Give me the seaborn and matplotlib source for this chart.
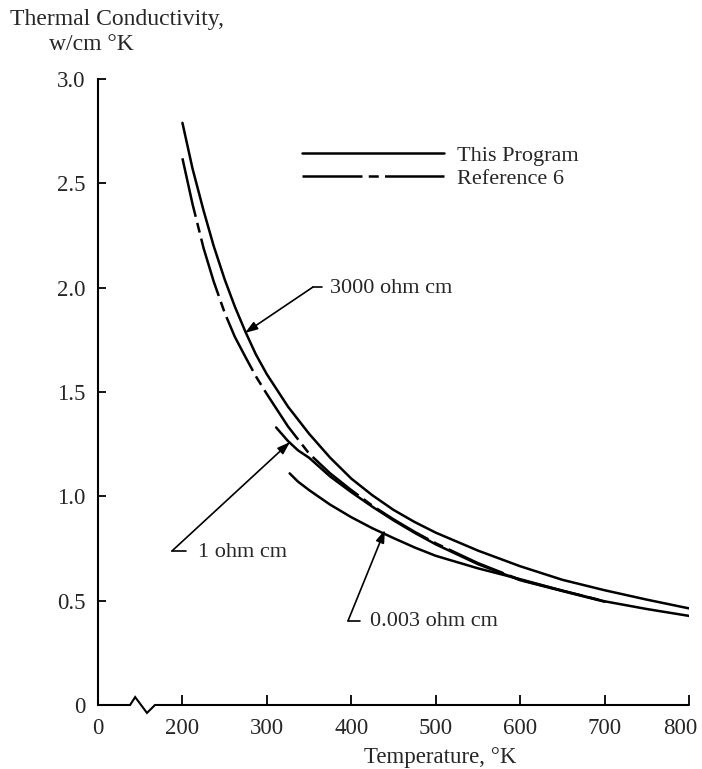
import numpy as np
import pandas as pd
import seaborn as sns
import matplotlib.pyplot as plt
from matplotlib.transforms import ScaledTranslation

sns.set_theme(style="ticks")
plt.rcParams['font.family'] = ['Liberation Serif', 'DejaVu Serif']

# curvas (T en K, k en w/cm K)
t_3000_prog = [200, 212, 225, 237, 250, 262, 275, 287, 300, 325, 350, 375, 400, 425, 450, 475,
               500, 550, 600, 650, 700, 750, 800]
k_3000_prog = [2.79, 2.57, 2.37, 2.20, 2.04, 1.91, 1.785, 1.68, 1.585, 1.43, 1.30, 1.185, 1.085,
               1.005, 0.935, 0.877, 0.826, 0.74, 0.665, 0.60, 0.55, 0.505, 0.463]

t_3000_ref = [200, 212, 225, 237, 250, 262, 275, 287, 300, 325, 350, 375, 400, 425, 450, 475,
              500, 550, 600, 650, 700]
k_3000_ref = [2.62, 2.40, 2.19, 2.03, 1.88, 1.765, 1.665, 1.575, 1.49, 1.335, 1.205, 1.11, 1.03,
              0.955, 0.89, 0.83, 0.775, 0.68, 0.60, 0.548, 0.497]

t_1ohm = [311, 325, 337, 350, 375, 400, 425, 450, 475, 500, 550, 600, 650, 700]
k_1ohm = [1.33, 1.265, 1.22, 1.185, 1.095, 1.02, 0.95, 0.885, 0.825, 0.77, 0.675, 0.598, 0.546, 0.495]

t_0003 = [327, 337, 350, 375, 400, 425, 450, 475, 500, 550, 600, 650, 700, 750, 800]
k_0003 = [1.11, 1.07, 1.03, 0.96, 0.90, 0.847, 0.80, 0.755, 0.715, 0.655, 0.603, 0.548, 0.497,
          0.46, 0.427]

x_ticks = [100, 200, 300, 400, 500, 600, 700, 800]
x_tick_labels = ['0', '200', '300', '400', '500', '600', '700', '800']
y_ticks = [0, 0.5, 1.0, 1.5, 2.0, 2.5, 3.0]
y_tick_labels = ['0', '0.5', '1.0', '1.5', '2.0', '2.5', '3.0']

frames = []
for name, src, t, k in [("3000", "This Program", t_3000_prog, k_3000_prog),
                        ("3000 ref", "Reference 6", t_3000_ref, k_3000_ref),
                        ("1", "This Program", t_1ohm, k_1ohm),
                        ("0.003", "This Program", t_0003, k_0003)]:
    frames.append(pd.DataFrame({"T": t, "k": k, "curve": name, "source": src}))
df = pd.concat(frames, ignore_index=True)

fig = plt.figure(figsize=(7.02, 7.69), dpi=100)
ax = fig.add_axes([98 / 702, 64 / 769, 591 / 702, 626 / 769])

sns.lineplot(data=df, x="T", y="k", units="curve", style="source",
             style_order=["This Program", "Reference 6"],
             dashes={"This Program": "", "Reference 6": (24, 2.5, 4, 2.5)},
             estimator=None, sort=False, color="black", lw=1.8, ax=ax)

ax.set_xlim(100, 800)
ax.set_ylim(0, 3.0)
ax.set_xticks(x_ticks)
ax.set_xticklabels(x_tick_labels)
ax.set_yticks(y_ticks)
ax.set_yticklabels(y_tick_labels)
ax.tick_params(axis='both', direction='in', labelsize=16.5, width=1.3, color='black', pad=9)
ax.tick_params(axis='x', length=7)
ax.tick_params(axis='y', length=6)

# el "800" queda un poco hacia dentro, como en el original
last = ax.get_xticklabels()[-1]
last.set_transform(last.get_transform() + ScaledTranslation(-6 / 72, 0, fig.dpi_scale_trans))

for s in ['top', 'right', 'bottom']:
    ax.spines[s].set_visible(False)
ax.spines['left'].set_linewidth(1.5)
ax.spines['left'].set_color('black')

# eje x con corte (zigzag)
brk = [138, 144, 158, 167.5]
amp = 0.038
ax.plot([100, brk[0], brk[1], brk[2], brk[3], 800], [0, 0, amp, -amp, 0, 0],
        color='black', lw=1.5, clip_on=False, solid_joinstyle='miter')

# leyenda
handles, labels = ax.get_legend_handles_labels()
pairs = [(h, l) for h, l in zip(handles, labels) if l in ("This Program", "Reference 6")]
ax.legend([p[0] for p in pairs], [p[1] for p in pairs], loc='upper left',
          bbox_to_anchor=(0.345, 0.894), frameon=False, fontsize=16,
          handlelength=6.4, handletextpad=0.6, labelspacing=0.1,
          borderpad=0, borderaxespad=0)

# etiquetas con flechas
arrow_kw = dict(arrowstyle='-|>,head_length=0.5,head_width=0.17', color='black',
                lw=1.2, mutation_scale=15, shrinkA=0, shrinkB=0)
notes = [("3000 ohm cm", (274, 1.783), (354.6, 2.003), 365.3, 374.8, 1.995),
         ("1 ohm cm", (327.4, 1.26), (187.6, 0.738), 204.2, 218.4, 0.73),
         ("0.003 ohm cm", (439.9, 0.839), (396.1, 0.403), 410.3, 422.2, 0.398)]
for txt, tip, corner, tick_end, tx, ty in notes:
    ax.annotate('', xy=tip, xytext=corner, arrowprops=arrow_kw)
    ax.plot([corner[0], tick_end], [corner[1], corner[1]], color='black', lw=1.2)
    ax.text(tx, ty, txt, fontsize=16, va='center', ha='left')

ax.set_xlabel("Temperature, °K", fontsize=16.5, va='center')
ax.xaxis.set_label_coords((440 - 98) / 591, (705 - 757) / 626)
ax.set_ylabel("")
fig.text(10 / 702, 1 - 20 / 769, "Thermal Conductivity,", fontsize=17, va='center', ha='left')
fig.text(49 / 702, 1 - 45 / 769, "w/cm °K", fontsize=17, va='center', ha='left')

fig.savefig("out.png", dpi=100)
